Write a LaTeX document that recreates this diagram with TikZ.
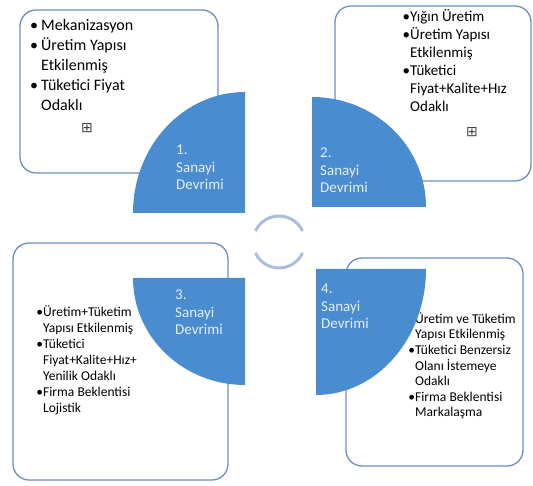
\documentclass[tikz,border=0pt]{standalone}
\usepackage{fontspec}
\setmainfont{Carlito}
\newfontfamily\symfont{DejaVu Sans}
\definecolor{pieblue}{RGB}{74,140,208}
\definecolor{pielabel}{RGB}{228,237,248}
\definecolor{boxline}{RGB}{108,143,190}
\definecolor{ringblue}{RGB}{172,190,217}
\newcommand\itm{\llap{•}}
\newcommand\itmsp{\llap{•\hspace{3pt}}}
\tikzset{
  box/.style={draw=boxline, line width=1.3pt, rounded corners=16pt, fill=white},
  pie/.style={fill=pieblue},
  pietext/.style={anchor=base west, inner sep=0pt, align=left, text=pielabel,
    font=\fontsize{15}{17.5}\selectfont},
  boxtext/.style={anchor=base west, inner sep=0pt, align=left, text=black},
  plus/.style={inner sep=0pt, font=\symfont\fontsize{14}{14}\selectfont, text=black!75},
  ring/.style={draw=ringblue, line width=3pt}
}
\begin{document}
\begin{tikzpicture}[x=1pt,y=1pt]
  \useasboundingbox (0,0) rectangle (533,485);
  \draw[box] (20,312) rectangle (218,475);
  \draw[box] (335,304) rectangle (531,479);
  \draw[box] (13,5) rectangle (228,242);
  \draw[box] (346,19) rectangle (523,227);
  % text nodes sit on the baseline of their last line
  \node[boxtext, font=\fontsize{16}{20}\selectfont] (t1) at (41,374)
    {\itmsp Mekanizasyon\\\itmsp Üretim Yapısı\\Etkilenmiş\\\itmsp Tüketici Fiyat\\Odaklı};
  \node[plus] (x1) at (87,357) {⊞};
  \node[boxtext, font=\fontsize{15}{18}\selectfont] (t2) at (410,373)
    {\itm Yığın Üretim\\\itm Üretim Yapısı\\Etkilenmiş\\\itm Tüketici\\Fiyat+Kalite+Hız\\Odaklı};
  \node[plus] (x2) at (472,353) {⊞};
  \node[boxtext, font=\fontsize{13.5}{16}\selectfont] (t3) at (43,73)
    {\itm Üretim+Tüketim\\Yapısı Etkilenmiş\\\itm Tüketici\\Fiyat+Kalite+Hız+\\Yenilik Odaklı\\\itm Firma Beklentisi\\Lojistik};
  \node[boxtext, font=\fontsize{13.5}{15.6}\selectfont] (t4) at (415,68)
    {\itm Üretim ve Tüketim\\Yapısı Etkilenmiş\\\itm Tüketici Benzersiz\\Olanı İstemeye\\Odaklı\\\itm Firma Beklentisi\\Markalaşma};
  % quarter pies round the hub
  \fill[pie] (245,272) -- ++(0,121) arc[start angle=90, end angle=180, x radius=112pt, y radius=121pt] -- cycle;
  \fill[pie] (312,278) -- ++(114,0) arc[start angle=0, end angle=90, x radius=114pt, y radius=110pt] -- cycle;
  \fill[pie] (245,207) -- ++(-112,0) arc[start angle=180, end angle=270, x radius=112pt, y radius=107pt] -- cycle;
  \fill[pie] (316,216) -- ++(0,-126) arc[start angle=270, end angle=360, x radius=110pt, y radius=126pt] -- cycle;
  \node[pietext] (p1) at (176,295) {1.\\Sanayi\\Devrimi};
  \node[pietext] (p2) at (320,292) {2.\\Sanayi\\Devrimi};
  \node[pietext] (p3) at (175,150) {3.\\Sanayi\\Devrimi};
  \node[pietext] (p4) at (321,156) {4.\\Sanayi\\Devrimi};
  \coordinate (hub) at (279,243);
  \draw[ring] ([shift={(155:26)}]hub) arc[start angle=155, end angle=25, radius=26pt];
  \draw[ring] ([shift={(205:26)}]hub) arc[start angle=205, end angle=335, radius=26pt];
\end{tikzpicture}
\end{document}
